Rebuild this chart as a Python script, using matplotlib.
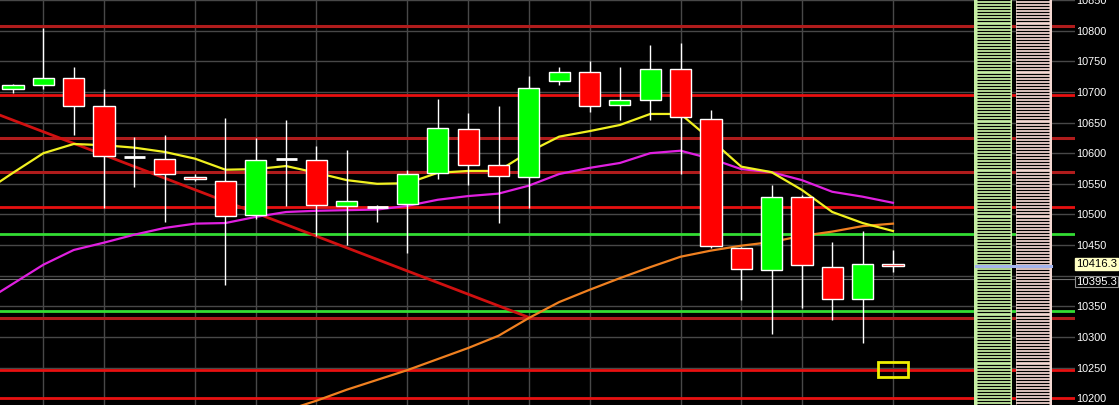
import matplotlib
matplotlib.use('Agg')
import matplotlib.pyplot as plt
import matplotlib.transforms as mtransforms
from matplotlib.patches import Rectangle
import numpy as np

# candle data (index 0 = first visible bar)
opens  = [10705, 10712, 10723, 10677, 10594, 10591, 10561, 10555, 10499, 10591,
          10589, 10514, 10512, 10517, 10568, 10640, 10581, 10561, 10718, 10733,
          10679, 10686, 10738, 10656, 10445, 10409, 10529, 10414, 10362, 10419]
highs  = [10713, 10805, 10740, 10704, 10627, 10630, 10566, 10658, 10625, 10654,
          10612, 10605, 10516, 10573, 10689, 10666, 10677, 10726, 10740, 10751,
          10741, 10777, 10780, 10671, 10447, 10548, 10531, 10455, 10473, 10442]
lows   = [10699, 10705, 10630, 10511, 10545, 10488, 10555, 10385, 10493, 10514,
          10465, 10450, 10488, 10437, 10558, 10548, 10486, 10511, 10712, 10668,
          10654, 10654, 10566, 10445, 10360, 10305, 10347, 10327, 10290, 10406]
closes = [10712, 10723, 10677, 10596, 10594, 10566, 10558, 10498, 10589, 10591,
          10516, 10522, 10512, 10566, 10641, 10581, 10563, 10707, 10733, 10677,
          10686, 10738, 10659, 10448, 10411, 10529, 10417, 10362, 10419, 10416.3]

# moving averages, starting one bar before the first visible candle (index -1)
ma_fast = [10535, 10568, 10600, 10615, 10613, 10609, 10602, 10591, 10573, 10574,
           10579, 10568, 10556, 10550, 10551, 10568, 10571, 10571, 10602, 10627,
           10636, 10646, 10664, 10664, 10622, 10578, 10569, 10540, 10504, 10486, 10473]
ma_mid = [10356, 10387, 10418, 10442, 10454, 10467, 10478, 10485, 10486, 10496,
          10504, 10506, 10507, 10508, 10514, 10524, 10530, 10534, 10547, 10566,
          10576, 10584, 10600, 10604, 10591, 10574, 10569, 10556, 10537, 10529, 10519]
ma_slow = [np.nan] * 9 + [10163, 10180, 10196, 10214, 10230, 10246, 10264, 10282,
           10302, 10331, 10357, 10377, 10396, 10414, 10431, 10441, 10449, 10455,
           10465, 10472, 10481, 10485]

# horizontal levels
red_dark = [10807, 10625, 10569, 10331]
red_bright = [10695, 10512, 10246, 10201]
green_levels = [10468, 10343]
trend_x = [-0.43, 17.05]
trend_y = [10662, 10331]
vgrid = [1, 3, 6, 8, 10, 13, 15, 17, 19, 22, 24, 26, 29]
last_price = 10416.3
prev_close = 10395.3
box_x = [28.5, 29.5]
box_y = [10235, 10259]
yticks = np.arange(10200, 10851, 50)
# the 10400 label is hidden under the price boxes in the original
ytick_labels = ['' if v == 10400 else str(v) for v in yticks]

W, H = 1119, 405
fig = plt.figure(figsize=(W / 100, H / 100), dpi=100, facecolor='black')
ax = fig.add_axes([0, 0, 1075 / W, 1])
ax.set_facecolor('black')
ax.set_xlim(-0.43, 35.0)
ax.set_ylim(10189, 10850)
for s in ax.spines.values():
    s.set_visible(False)
ax.set_xticks([])
ax.yaxis.tick_right()
ax.set_yticks(yticks)
ax.set_yticklabels(ytick_labels, fontfamily='Liberation Sans')
ax.tick_params(axis='y', length=0, pad=1, labelcolor='white', labelsize=7.8)

# grid
for y in yticks:
    ax.axhline(y, color='#484848', lw=1, zorder=1)
for v in vgrid:
    ax.axvline(v, color='#484848', lw=1, zorder=1)
ax.axhline(prev_close, color='#707070', lw=0.8, zorder=1)

# levels
for y in red_dark:
    ax.axhline(y, color='#b01c1c', lw=2.2, zorder=2)
for y in red_bright:
    ax.axhline(y, color='#e81010', lw=2, zorder=2)
for y in green_levels:
    ax.axhline(y, color='#33dd33', lw=2, zorder=2)
ax.plot(trend_x, trend_y, color='#d01010', lw=2, zorder=2)

# moving averages
xm = np.arange(-1, len(ma_fast) - 1)
ax.plot(xm, ma_slow, color='#f08020', lw=1.6, zorder=3)
ax.plot(xm, ma_mid, color='#e020e0', lw=1.6, zorder=3)
ax.plot(xm, ma_fast, color='#f0f020', lw=1.6, zorder=3)

# candles
x = np.arange(len(opens))
o = np.array(opens)
c = np.array(closes)
ax.vlines(x, lows, highs, color='white', lw=1, zorder=4)
doji = np.abs(c - o) < 1
up = (c > o) & ~doji
dn = (c < o) & ~doji
ax.bar(x[up], (c - o)[up], bottom=o[up], width=0.7, color='#00ff00',
       edgecolor='white', lw=1, zorder=5)
ax.bar(x[dn], (o - c)[dn], bottom=c[dn], width=0.7, color='#ff0000',
       edgecolor='white', lw=1, zorder=5)
ax.hlines(c[doji], x[doji] - 0.35, x[doji] + 0.35, color='white', lw=2, zorder=5)

ax.add_patch(Rectangle((box_x[0], box_y[0]), box_x[1] - box_x[0], box_y[1] - box_y[0],
                       fill=False, edgecolor='#f0f000', lw=2, zorder=6))

# price profile bars on the right
trans = mtransforms.blended_transform_factory(ax.transAxes, ax.transData)
ylo, yhi = ax.get_ylim()
gx0, gx1 = 974 / 1075, 1012 / 1075
px0, px1 = 1016 / 1075, 1052 / 1075
ax.add_patch(Rectangle((gx0, ylo), gx1 - gx0, yhi - ylo, transform=trans,
                       facecolor='#c6eea4', edgecolor='none', zorder=7))
ax.add_patch(Rectangle((px0, ylo), px1 - px0, yhi - ylo, transform=trans,
                       facecolor='#f4d8d2', edgecolor='none', zorder=7))
stripes = np.arange(10190, 10851, 5)
ax.hlines(stripes, 977 / 1075, 1010 / 1075, transform=trans, color='black', lw=0.9, zorder=8)
ax.hlines(stripes, px0, 1049 / 1075, transform=trans, color='black', lw=0.9, zorder=8)
ax.plot([976 / 1075, 1051 / 1075], [last_price, last_price], transform=trans,
        color='#a4b4ee', lw=2.2, zorder=9)

# price labels
lx = 1.0 + 1 / 1075
ax.text(lx, last_price + 3, f'{last_price:.1f}', transform=trans, ha='left', va='center',
        fontsize=8.1, family='Liberation Sans', color='black', zorder=10, clip_on=False,
        bbox=dict(boxstyle='square,pad=0.06', facecolor='#ffffc4', edgecolor='#ffffc4'))
ax.text(lx, prev_close - 5, f'{prev_close:.1f}', transform=trans, ha='left', va='center',
        fontsize=8.1, family='Liberation Sans', color='white', zorder=10, clip_on=False,
        bbox=dict(boxstyle='square,pad=0.06', facecolor='black', edgecolor='#909090', lw=0.8))

fig.savefig('out.png', dpi=100, facecolor='black')
